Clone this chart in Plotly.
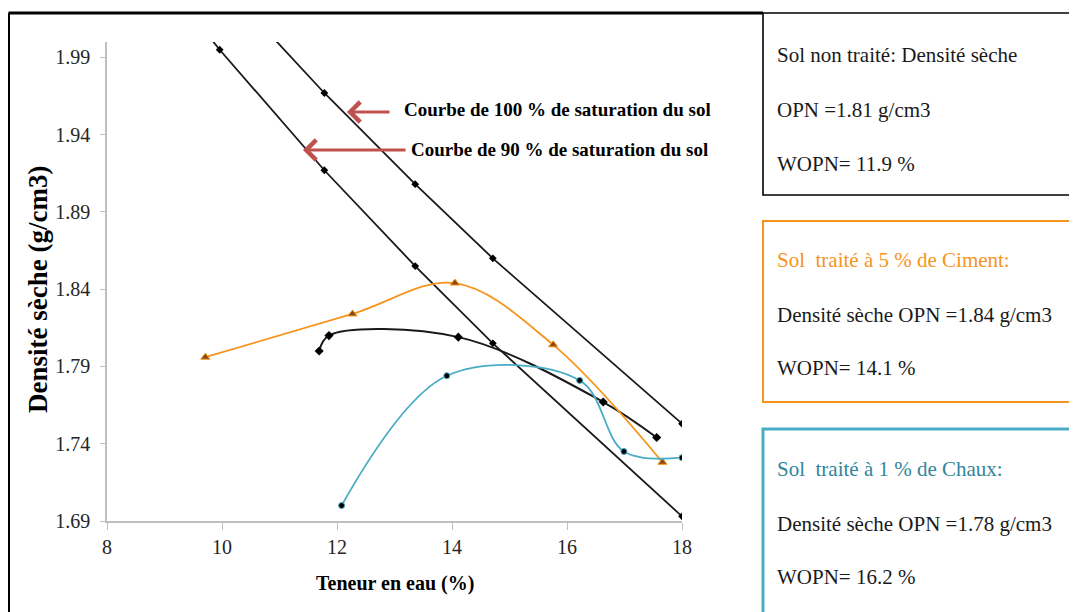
import plotly.graph_objects as go

# Courbes de saturation (teneur en eau %, densité sèche g/cm3)
w_sat = [8.0, 9.96, 11.78, 13.36, 14.71, 18.0]
sat_100 = [2.125, 2.040, 1.967, 1.908, 1.860, 1.753]
sat_90 = [2.086, 1.995, 1.917, 1.855, 1.805, 1.693]

# Essais Proctor
w_non_traite = [11.69, 11.86, 14.11, 16.63, 17.56]
d_non_traite = [1.800, 1.810, 1.809, 1.767, 1.744]

w_ciment = [9.71, 12.27, 14.05, 15.76, 17.66]
d_ciment = [1.796, 1.824, 1.844, 1.804, 1.728]

w_chaux = [12.08, 13.91, 16.22, 16.99, 18.0]
d_chaux = [1.700, 1.784, 1.781, 1.735, 1.731]

x_ticks = [8, 10, 12, 14, 16, 18]
y_ticks = [1.69, 1.74, 1.79, 1.84, 1.89, 1.94, 1.99]

box_non_traite = ["Sol non traité: Densité sèche", "OPN =1.81 g/cm3", "WOPN= 11.9 %"]
box_ciment = ["Sol  traité à 5 % de Ciment:", "Densité sèche OPN =1.84 g/cm3", "WOPN= 14.1 %"]
box_chaux = ["Sol  traité à 1 % de Chaux:", "Densité sèche OPN =1.78 g/cm3", "WOPN= 16.2 %"]

FONT = "Liberation Serif, Times New Roman, serif"
ORANGE = "#F7941D"
CYAN = "#4BACC6"

# la page html a une marge de 8 px autour de la figure
OFF = 8
W, H = 1077 - OFF, 612 - OFF
PL, PR, PT, PB = 107, 682, 42, 521   # zone de tracé en pixels de la page


def px(x):
    return (x - PL) / (PR - PL)


def py(y):
    return (PB - y) / (PB - PT)


fig = go.Figure()

for d in [sat_100, sat_90]:
    fig.add_trace(go.Scatter(
        x=w_sat, y=d, mode="lines+markers",
        line=dict(color="#1a1a1a", width=1.8),
        marker=dict(symbol="diamond", size=6, color="black"),
        showlegend=False
    ))

fig.add_trace(go.Scatter(
    x=w_non_traite, y=d_non_traite, mode="lines+markers",
    line=dict(color="#1a1a1a", width=2, shape="spline", smoothing=1),
    marker=dict(symbol="diamond", size=7, color="black"),
    showlegend=False
))
fig.add_trace(go.Scatter(
    x=w_ciment, y=d_ciment, mode="lines+markers",
    line=dict(color=ORANGE, width=1.8, shape="spline", smoothing=1),
    marker=dict(symbol="triangle-up", size=8, color="#8a4a10",
                line=dict(color=ORANGE, width=1)),
    showlegend=False
))
fig.add_trace(go.Scatter(
    x=w_chaux, y=d_chaux, mode="lines+markers",
    line=dict(color=CYAN, width=1.8, shape="spline", smoothing=1),
    marker=dict(symbol="circle", size=6, color="black",
                line=dict(color=CYAN, width=1)),
    showlegend=False
))

annotations = []
# textes des courbes de saturation + flèches
annotations.append(dict(xref="paper", yref="paper", x=px(402), y=py(110),
                        xanchor="left", yanchor="middle", showarrow=False,
                        text="<b>Courbe de 100 % de saturation du sol</b>",
                        font=dict(family=FONT, size=19, color="black")))
annotations.append(dict(xref="paper", yref="paper", x=px(409), y=py(149),
                        xanchor="left", yanchor="middle", showarrow=False,
                        text="<b>Courbe de 90 % de saturation du sol</b>",
                        font=dict(family=FONT, size=19, color="black")))
for hx, hy, tail in [(347, 112, 44), (303, 150, 104)]:
    annotations.append(dict(xref="paper", yref="paper", x=px(hx), y=py(hy),
                            ax=tail, ay=0, text="", showarrow=True,
                            arrowhead=4, arrowsize=1.3, arrowwidth=3,
                            arrowcolor="#C0504D"))

# titres des axes
annotations.append(dict(xref="paper", yref="paper", x=px(38), y=py(290),
                        xanchor="center", yanchor="middle",
                        textangle=-90, showarrow=False,
                        text="<b>Densité sèche (g/cm3)</b>",
                        font=dict(family=FONT, size=27, color="black")))
annotations.append(dict(xref="paper", yref="paper", x=px(395), y=py(583),
                        xanchor="center", yanchor="middle",
                        showarrow=False, text="<b>Teneur en eau (%)</b>",
                        font=dict(family=FONT, size=20, color="black")))

# encadrés
shapes = []
boxes = [
    (box_non_traite, "black", 1.6, 13, 195, [55, 110, 164], "#1a1a1a"),
    (box_ciment, ORANGE, 2, 221, 402, [260, 315, 368], ORANGE),
    (box_chaux, CYAN, 3, 429, 616, [469, 524, 577], "#31859C"),
]
for lines, col, lw, top, bot, ys, first_col in boxes:
    shapes.append(dict(type="rect", xref="paper", yref="paper",
                       x0=px(763), x1=px(1090), y0=py(bot), y1=py(top),
                       line=dict(color=col, width=lw)))
    for i, (txt, yy) in enumerate(zip(lines, ys)):
        annotations.append(dict(xref="paper", yref="paper", x=px(775), y=py(yy),
                                xanchor="left", yanchor="middle", showarrow=False,
                                text=txt,
                                font=dict(family=FONT, size=21,
                                          color=first_col if i == 0 else "#1a1a1a")))

# cadre extérieur
shapes.append(dict(type="line", xref="paper", yref="paper",
                   x0=px(8.5), x1=px(763), y0=py(13), y1=py(13),
                   line=dict(color="black", width=3)))
shapes.append(dict(type="line", xref="paper", yref="paper",
                   x0=px(9), x1=px(9), y0=py(13), y1=py(620),
                   line=dict(color="black", width=2)))

fig.update_layout(
    width=W, height=H,
    margin=dict(l=PL - OFF, r=W + OFF - PR, t=PT - OFF, b=H + OFF - PB),
    plot_bgcolor="white", paper_bgcolor="white",
    font=dict(family=FONT, size=20, color="#262626"),
    xaxis=dict(range=[8, 18], tickvals=x_ticks, showgrid=False, zeroline=False,
               showline=True, linecolor="#BFBFBF", linewidth=1.5,
               ticks="outside", ticklen=7, tickcolor="#BFBFBF",
               tickfont=dict(family=FONT, size=20, color="#262626")),
    yaxis=dict(range=[1.69, 2.0], tickvals=y_ticks, tickformat=".2f",
               showgrid=False, zeroline=False,
               showline=True, linecolor="#BFBFBF", linewidth=1.5,
               ticks="outside", ticklen=5, tickcolor="#BFBFBF",
               ticklabelstandoff=6,
               tickfont=dict(family=FONT, size=20, color="#262626")),
    annotations=annotations,
    shapes=shapes
)

fig.write_html("out.html")
